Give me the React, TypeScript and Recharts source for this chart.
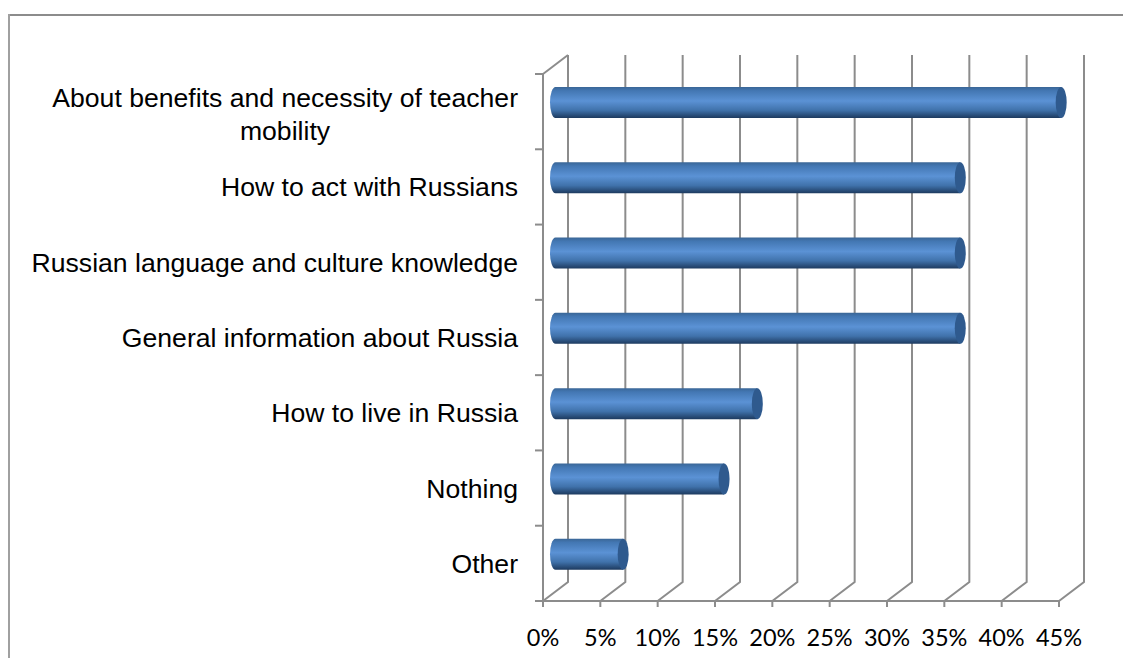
import React from 'react';
import { BarChart, Bar, XAxis, YAxis, CartesianGrid } from 'recharts';

const categories = [
  'About benefits and necessity of teacher mobility',
  'How to act with Russians',
  'Russian language and culture knowledge',
  'General information about Russia',
  'How to live in Russia',
  'Nothing',
  'Other',
];
const shares = [44.1, 35.3, 35.3, 35.3, 17.6, 14.7, 5.9];
const xTicks = [0, 5, 10, 15, 20, 25, 30, 35, 40, 45];

const data = categories.map((name, i) => ({ name, share: shares[i] }));

const DEPTH_X = 25;
const DEPTH_Y = 19;
const AXIS = '#8c8c8c';
const LABEL_RIGHT = 510;

// back wall gridline: goes up the floor diagonal, then up the wall
const GridLine = (props: any) => {
  const { x1, y1, y2 } = props;
  const top = Math.min(y1, y2);
  const bottom = Math.max(y1, y2);
  return (
    <polyline
      points={`${x1},${bottom} ${x1 + DEPTH_X},${bottom - DEPTH_Y} ${x1 + DEPTH_X},${top - DEPTH_Y}`}
      fill="none"
      stroke={AXIS}
      strokeWidth={2}
    />
  );
};

// Excel style cylinder bar, pushed half way into the depth
const Cylinder = (props: any) => {
  const { x, y, width, height } = props;
  const cx = x + DEPTH_X / 2;
  const top = y - DEPTH_Y / 2 + 0.5;
  const rx = 5.5;
  const ry = height / 2;
  return (
    <g>
      <path
        d={`M${cx},${top} L${cx + width},${top} L${cx + width},${top + height} L${cx},${top + height} A${rx},${ry} 0 0 1 ${cx},${top} Z`}
        fill="url(#cylinder)"
      />
      <ellipse cx={cx + width} cy={top + ry} rx={rx} ry={ry} fill="#2f5a8e" />
    </g>
  );
};

const CategoryTick = (props: any) => {
  const { x, y, payload, index } = props;
  const band = 527 / categories.length;
  const axisX = x + 8;
  const wrapped = payload.value.length > 45;
  const labelProps = { fontFamily: 'Liberation Sans', fontSize: 26.6, fill: '#000' };
  return (
    <g>
      <line x1={axisX - 8} x2={axisX} y1={y - band / 2} y2={y - band / 2} stroke={AXIS} strokeWidth={2} />
      {index === 0 && (
        <line
          x1={axisX}
          x2={axisX + DEPTH_X}
          y1={y - band / 2}
          y2={y - band / 2 - DEPTH_Y}
          stroke={AXIS}
          strokeWidth={2}
        />
      )}
      {index === categories.length - 1 && (
        <line x1={axisX - 8} x2={axisX} y1={y + band / 2} y2={y + band / 2} stroke={AXIS} strokeWidth={2} />
      )}
      {wrapped ? (
        <>
          <text x={LABEL_RIGHT} y={y - 5} textAnchor="end" {...labelProps}>
            About benefits and necessity of teacher
          </text>
          <text x={277} y={y + 28} textAnchor="middle" {...labelProps}>
            mobility
          </text>
        </>
      ) : (
        <text x={LABEL_RIGHT} y={y + 9.5} textAnchor="end" {...labelProps}>
          {payload.value}
        </text>
      )}
    </g>
  );
};

export default function App() {
  return (
    <div style={{ position: 'relative', width: 1115, height: 650 }}>
      <div style={{ position: 'absolute', left: 0, top: 6, width: 1123, height: 2, background: AXIS }} />
      <div style={{ position: 'absolute', left: 0, top: 6, width: 2, height: 654, background: '#a0a0a0' }} />
      <div style={{ position: 'absolute', left: 0, top: 0 }}>
        <BarChart
          width={1115}
          height={650}
          layout="vertical"
          data={data}
          barSize={31}
          margin={{ top: 66, right: 64, bottom: 27, left: 0 }}
        >
          <defs>
            <linearGradient id="cylinder" x1="0" y1="0" x2="0" y2="1">
              <stop offset="0%" stopColor="#3a6696" />
              <stop offset="12%" stopColor="#4377b3" />
              <stop offset="45%" stopColor="#5b92d5" />
              <stop offset="75%" stopColor="#4072ab" />
              <stop offset="100%" stopColor="#1d3a5f" />
            </linearGradient>
          </defs>
          <CartesianGrid horizontal={false} vertical={<GridLine />} syncWithTicks />
          <XAxis
            type="number"
            domain={[0, 45]}
            ticks={xTicks}
            interval={0}
            tickFormatter={(v: number) => `${v}%`}
            stroke={AXIS}
            strokeWidth={2}
            tickSize={6}
            tick={{ fill: '#000', fontSize: 23.5, fontFamily: 'Lato' }}
            tickMargin={22}
          />
          <YAxis
            type="category"
            dataKey="name"
            width={535}
            interval={0}
            stroke={AXIS}
            strokeWidth={2}
            tickLine={false}
            tick={<CategoryTick />}
          />
          <Bar dataKey="share" shape={<Cylinder />} isAnimationActive={false} />
        </BarChart>
      </div>
    </div>
  );
}
